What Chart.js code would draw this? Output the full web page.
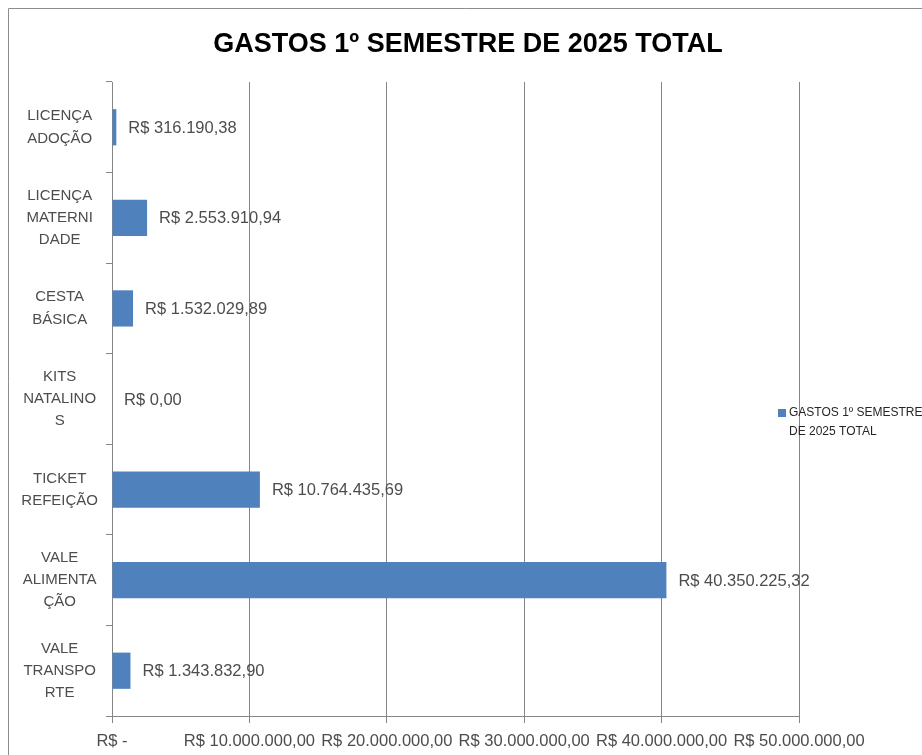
<!DOCTYPE html>
<html lang="pt-BR">
<head>
<meta charset="UTF-8">
<title>Gastos 1º Semestre de 2025</title>
<script src="https://cdn.jsdelivr.net/npm/chart.js"></script>
<style>
    * { margin: 0; padding: 0; }
    body { background: #fff; width: 922px; height: 755px; overflow: hidden; }
    #wrap { width: 922px; height: 755px; }
</style>
</head>
<body>
<div id="wrap"><canvas id="grafico"></canvas></div>
<script>
// dados
const categorias = [
    ['LICENÇA', 'ADOÇÃO'],
    ['LICENÇA', 'MATERNI', 'DADE'],
    ['CESTA', 'BÁSICA'],
    ['KITS', 'NATALINO', 'S'],
    ['TICKET', 'REFEIÇÃO'],
    ['VALE', 'ALIMENTA', 'ÇÃO'],
    ['VALE', 'TRANSPO', 'RTE']
];
const valores = [316190.38, 2553910.94, 1532029.89, 0, 10764435.69, 40350225.32, 1343832.90];
const nomeSerie = 'GASTOS 1º SEMESTRE DE 2025 TOTAL';
const legendaLinhas = ['GASTOS 1º SEMESTRE', 'DE 2025 TOTAL'];
const eixoMax = 50000000;
const eixoPasso = 10000000;

const fonte = "'Liberation Sans', Arial, sans-serif";
const cinza = '#868686';
const texto = '#4d4d4d';
const azul = '#4F81BD';

function moeda(v) {
    let partes = v.toFixed(2).split('.');
    let inteiro = partes[0].replace(/\B(?=(\d{3})+(?!\d))/g, '.');
    return 'R$ ' + inteiro + ',' + partes[1];
}

// moldura, título, rótulos e legenda
const extras = {
    id: 'extras',
    beforeDraw(chart) {
        const c = chart.ctx;
        c.save();
        c.fillStyle = '#fff';
        c.fillRect(0, 0, chart.width, chart.height);
        c.strokeStyle = '#8c8c8c';
        c.lineWidth = 1;
        c.beginPath();
        c.moveTo(8.5, chart.height);
        c.lineTo(8.5, 8.5);
        c.lineTo(chart.width, 8.5);
        c.stroke();
        c.restore();
    },
    afterDatasetsDraw(chart) {
        const c = chart.ctx;
        const meta = chart.getDatasetMeta(0);
        c.save();
        c.font = '16.5px ' + fonte;
        c.fillStyle = texto;
        c.textAlign = 'left';
        c.textBaseline = 'middle';
        meta.data.forEach((bar, i) => {
            c.fillText(moeda(valores[i]), bar.x + 12, bar.y + 1);
        });
        c.restore();
    },
    afterDraw(chart) {
        const c = chart.ctx;
        c.save();
        // título
        c.font = 'bold 27px ' + fonte;
        c.fillStyle = '#000';
        c.textAlign = 'center';
        c.textBaseline = 'middle';
        c.fillText(nomeSerie, 468, 45);
        // legenda
        c.fillStyle = azul;
        c.fillRect(778, 409, 8, 8);
        c.font = '12px ' + fonte;
        c.fillStyle = '#262626';
        c.textAlign = 'left';
        legendaLinhas.forEach((linha, i) => {
            c.fillText(linha, 789, 413 + i * 19);
        });
        c.restore();
    }
};

let ctx = document.getElementById('grafico').getContext('2d');
let grafico = new Chart(ctx, {
    type: 'bar',
    data: {
        labels: categorias,
        datasets: [{
            label: nomeSerie,
            data: valores,
            backgroundColor: azul,
            borderWidth: 0,
            barPercentage: 0.4,
            categoryPercentage: 1
        }]
    },
    options: {
        indexAxis: 'y',
        responsive: true,
        maintainAspectRatio: false,
        animation: false,
        layout: { padding: { top: 82, left: 0, right: 123, bottom: 0 } },
        plugins: {
            legend: { display: false },
            title: { display: false },
            tooltip: { enabled: false }
        },
        scales: {
            x: {
                min: 0,
                max: eixoMax,
                afterFit: (s) => { s.height = 39; },
                grid: { color: cinza, tickLength: 7 },
                border: { color: cinza },
                ticks: {
                    stepSize: eixoPasso,
                    autoSkip: false,
                    maxRotation: 0,
                    minRotation: 0,
                    padding: 9,
                    color: texto,
                    font: { family: fonte, size: 16.5 },
                    callback: (v) => v === 0 ? 'R$ -' : moeda(v)
                }
            },
            y: {
                afterFit: (s) => { s.width = 112; },
                grid: { display: true, drawOnChartArea: false, offset: true, color: cinza, tickLength: 6 },
                border: { color: cinza },
                ticks: {
                    crossAlign: 'center',
                    padding: 8,
                    color: texto,
                    font: { family: fonte, size: 15, lineHeight: 1.48 }
                }
            }
        }
    },
    plugins: [extras]
});
</script>
</body>
</html>
